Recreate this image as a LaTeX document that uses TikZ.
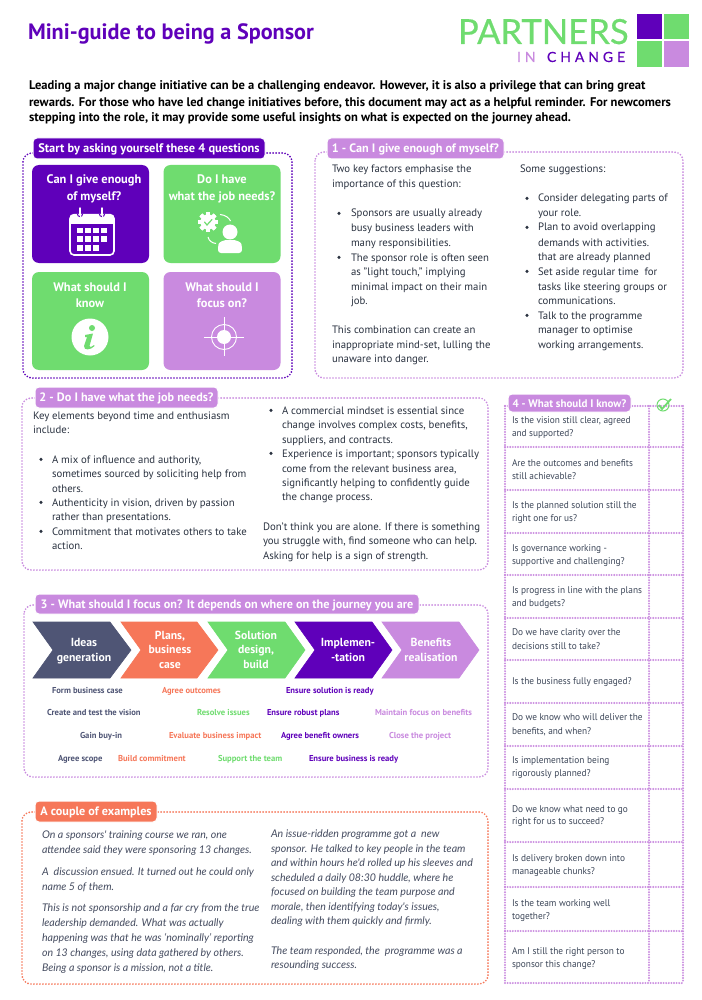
\documentclass[tikz,border=0pt]{standalone}
\usepackage{fontspec}
\setmainfont{PT Sans}
\newfontfamily\tblfont[FakeStretch=0.96]{PT Sans}
\newfontfamily\itfont{Lato}
\newfontfamily\logofont[FakeBold=0.5]{Lato}
\newfontfamily\logospaced[LetterSpace=28,FakeBold=0.5]{Lato}
\definecolor{cpurple}{HTML}{5F00BA}
\definecolor{cgreen}{HTML}{6FDC6F}
\definecolor{clilac}{HTML}{C98ADF}
\definecolor{ccoral}{HTML}{F67759}
\definecolor{cnavy}{HTML}{4F5575}
\definecolor{cink}{HTML}{2A3240}
\definecolor{ctable}{HTML}{3C4658}
\definecolor{citalic}{HTML}{454C60}
\newcounter{tlc}
\newcommand\tline[4][]{\stepcounter{tlc}\node[tl,#1] (t\arabic{tlc}) at (#2,#3) {#4};}
\newcommand\bul[2]{\fill[cink] (#1,#2-3.6) circle[radius=1.7pt];}
\tikzset{
  tl/.style={anchor=base west,inner sep=0pt,outer sep=0pt,font=\fontsize{10.75}{14}\selectfont,text=cink},
  ctr/.style={anchor=base},
  intro/.style={font=\fontsize{12.55}{15}\bfseries\selectfont,text=black},
  tbl/.style={font=\fontsize{9.7}{13}\tblfont\selectfont,text=ctable},
  itl/.style={font=\fontsize{10.6}{13}\itshape\itfont\selectfont,text=citalic},
  small/.style={font=\fontsize{8.6}{10}\bfseries\selectfont},
  celltxt/.style={anchor=base,font=\fontsize{12.4}{15}\bfseries\selectfont,text=white},
  chevtxt/.style={anchor=base,font=\fontsize{11.7}{15}\bfseries\selectfont,text=white},
  panel/.style={line width=1.9pt,line cap=round,dash pattern=on 0pt off 3pt,rounded corners=9pt},
  tableln/.style={clilac,line width=2.1pt,line cap=round,dash pattern=on 0pt off 2.6pt},
  tab/.style={rounded corners=4pt,draw=white,line width=1pt,text=white,inner sep=0pt,text height=10pt,text depth=2pt,font=\fontsize{12.2}{15}\bfseries\selectfont},
  cell/.style={rounded corners=7pt,minimum width=117pt,minimum height=98pt,inner sep=0pt},
  chev/.style={draw=white,line width=0.6pt},
}
\begin{document}
\begin{tikzpicture}[x=1pt,y=-1pt]
\useasboundingbox (0,0) rectangle (701,1000);
\fill[white] (0,0) rectangle (701,1000);

% title and logo
\tline[font=\fontsize{22.2}{26}\bfseries\selectfont,text=cpurple]{28}{40}{Mini-guide to being a Sponsor}
\tline[font=\fontsize{34.6}{40}\logofont\selectfont,text=cgreen]{458}{44}{PARTNERS}
\tline[font=\fontsize{14}{16}\logospaced\selectfont,text=clilac]{517}{62}{IN}
\tline[font=\fontsize{14}{16}\logospaced\selectfont,text=cpurple]{547}{62}{CHANGE}
\fill[cpurple] (637,14) rectangle (662,39);
\fill[cgreen] (664,14) rectangle (689,39);
\fill[cgreen] (637,41) rectangle (662,67);
\fill[clilac] (664,41) rectangle (689,67);

% intro
\tline[intro]{29}{90}{Leading a major change initiative can be a challenging endeavor. However, it is also a privilege that can bring great}
\tline[intro]{29}{106.5}{rewards. For those who have led change initiatives before, this document may act as a helpful reminder. For newcomers}
\tline[intro]{29}{122}{stepping into the role, it may provide some useful insights on what is expected on the journey ahead.}

% panels
\draw[panel,cpurple] (23,153) rectangle (292,378);
\draw[panel,clilac] (315,152) rectangle (683,378);
\draw[panel,clilac] (22,398) rectangle (488,570);
\draw[panel,clilac] (24,605) rectangle (488,777);
\draw[panel,ccoral] (22,812) rectangle (488,984);

% table
\draw[tableln] (505,406) -- (505,983);
\draw[tableln] (649,406) -- (649,983);
\draw[tableln] (683,406) -- (683,983);
\foreach \yy in {406,447,490,533,575,618,660,703,746,789,842,887,931,983}
  \draw[tableln] (505,\yy) -- (683,\yy);

% tabs
\node[tab,fill=cpurple,minimum width=232pt,minimum height=21pt] (tabstart) at (149,148.5) {\fontsize{12.4}{15}\selectfont Start by asking yourself these 4 questions};
\node[tab,fill=clilac,minimum width=177pt,minimum height=21pt] (tabone) at (415.5,148.5) {1 - Can I give enough of myself?};
\node[tab,fill=clilac,minimum width=183pt,minimum height=21pt] (tabtwo) at (126.5,397.5) {2 - Do I have what the job needs?};
\node[tab,fill=clilac,minimum width=384pt,minimum height=20pt] (tabthree) at (227,604) {3 - What should I focus on? It depends on where on the journey you are};
\node[tab,fill=clilac,minimum width=123pt,minimum height=18pt] (tabfour) at (569.5,403) {\fontsize{11}{14}\selectfont 4 - What should I know?};
\node[tab,fill=ccoral,minimum width=122pt,minimum height=21pt] (tabex) at (96,811.5) {A couple of examples};

% cells
\node[cell,fill=cpurple] (c1) at (90.5,214) {};
\node[cell,fill=cgreen] (c2) at (222,214) {};
\node[cell,fill=cgreen] (c3) at (90.5,321) {};
\node[cell,fill=clilac] (c4) at (222,321) {};
\tline[celltxt]{94}{184}{Can I give enough}
\tline[celltxt]{94}{201}{of myself?}
\tline[celltxt]{222}{184}{Do I have}
\tline[celltxt]{222}{201}{what the job needs?}
\tline[celltxt]{90}{291}{What should I}
\tline[celltxt]{90}{307}{know}
\tline[celltxt]{222}{291}{What should I}
\tline[celltxt]{222}{307}{focus on?}

% calendar icon
\draw[white,line width=1.6pt,rounded corners=4pt] (70,215) rectangle (114,255);
\fill[white,rounded corners=4pt] (69.5,214) rectangle (114.5,224) ;
\fill[white] (69.5,219) rectangle (114.5,224);
\foreach \xx in {77,85,93,101}{
  \fill[white] (\xx,228) rectangle (\xx+5.6,233.5);
  \fill[white] (\xx,236.5) rectangle (\xx+5.6,242);}
\foreach \xx in {77,85,93}
  \fill[white] (\xx,245) rectangle (\xx+5.6,250.5);
\foreach \xx in {80,102}{
  \draw[white,line width=1.4pt,line cap=round] (\xx,208) -- (\xx,214);
  \draw[cpurple,line width=1pt] (\xx-2.6,214) arc[start angle=180,end angle=360,radius=2.6pt];
  \draw[white,line width=1pt] (\xx,208) -- (\xx,217);}

% job icon
\fill[white] (208,222) circle[radius=7.6pt];
\foreach \a in {0,45,...,315}
  \fill[white,rotate around={\a:(208,222)}] (206,212) rectangle (210,232);
\draw[cgreen,line width=1.2pt,line cap=round] (204.5,222) -- (207,225) -- (212,219.5);
\draw[white,line width=1pt] (220,214.5) .. controls (226,215) and (229,218) .. (230.5,221);
\draw[white,line width=1pt] (208,237) .. controls (209,241) and (212,243) .. (216,243.5);
\fill[white] (230,232) circle[radius=7.5pt];
\fill[white,rounded corners=3pt] (218,253) -- (218,247) .. controls (219,242) and (224,240) .. (230,240) .. controls (236,240) and (241,242) .. (242,247) -- (242,253) -- cycle;

% info icon
\fill[white] (90,337) circle[radius=18.5pt];
\fill[cgreen] (92,328) circle[radius=3pt];
\fill[cgreen] (85,335) -- (93,333.5) -- (89.5,346) .. controls (89.3,347.5) and (91,347.5) .. (94,345) -- (94.5,346) .. controls (91,350) and (83.5,351) .. (84,346) -- (87,337) -- (85,337) -- cycle;

% target icon
\draw[white,line width=0.9pt] (224,337) circle[radius=12.5pt];
\fill[white] (224,337) circle[radius=7pt];
\draw[white,line width=0.9pt] (204,337) -- (244,337);
\draw[white,line width=0.9pt] (224,317) -- (224,356);

% panel 1 text
\tline{332}{173}{Two key factors emphasise the}
\tline{332}{188}{importance of this question:}
\bul{339}{217}\tline{351}{217}{Sponsors are usually already}
\tline{351}{232}{busy business leaders with}
\tline{351}{246}{many responsibilities.}
\bul{339}{261}\tline{351}{261}{The sponsor role is often seen}
\tline{351}{275}{as "light touch," implying}
\tline{351}{290}{minimal impact on their main}
\tline{351}{304}{job.}
\tline{332}{333}{This combination can create an}
\tline{332}{348}{inappropriate mind-set, lulling the}
\tline{332}{362}{unaware into danger.}
\tline{520}{173}{Some suggestions:}
\bul{527}{202}\tline{538}{202}{Consider delegating parts of}
\tline{538}{217}{your role.}
\bul{527}{231}\tline{538}{231}{Plan to avoid overlapping}
\tline{538}{246}{demands with activities.}
\tline{538}{260}{that are already planned}
\bul{527}{275}\tline{538}{275}{Set aside regular time\ \ for}
\tline{538}{290}{tasks like steering groups or}
\tline{538}{304}{communications.}
\bul{527}{319}\tline{538}{319}{Talk to the programme}
\tline{538}{333}{manager to optimise}
\tline{538}{348}{working arrangements.}

% panel 2 text
\tline{33}{419}{Key elements beyond time and enthusiasm}
\tline{33}{433}{include:}
\bul{41}{463}\tline{52}{463}{A mix of influence and authority,}
\tline{52}{477}{sometimes sourced by soliciting help from}
\tline{52}{492}{others.}
\bul{41}{506}\tline{52}{506}{Authenticity in vision, driven by passion}
\tline{52}{520}{rather than presentations.}
\bul{41}{535}\tline{52}{535}{Commitment that motivates others to take}
\tline{52}{549}{action.}
\bul{271}{414}\tline{282}{414}{A commercial mindset is essential since}
\tline{282}{428}{change involves complex costs, benefits,}
\tline{282}{443}{suppliers, and contracts.}
\bul{271}{457}\tline{282}{457}{Experience is important; sponsors typically}
\tline{282}{472}{come from the relevant business area,}
\tline{282}{486}{significantly helping to confidently guide}
\tline{282}{500}{the change process.}
\tline{263}{530}{Don't think you are alone. If there is something}
\tline{263}{544}{you struggle with, find someone who can help.}
\tline{263}{559}{Asking for help is a sign of strength.}

% chevrons
\fill[chev,cnavy] (33,622) -- (110,622) -- (131,650) -- (110,678) -- (33,678) -- (53,650) -- cycle;
\fill[chev,ccoral] (121,622) -- (197,622) -- (218,650) -- (197,678) -- (121,678) -- (141,650) -- cycle;
\fill[chev,cgreen] (208,622) -- (285,622) -- (305,650) -- (285,678) -- (208,678) -- (228,650) -- cycle;
\fill[chev,cpurple] (295,622) -- (372,622) -- (392,650) -- (372,678) -- (295,678) -- (315,650) -- cycle;
\fill[chev,clilac] (382,622) -- (459,622) -- (479,650) -- (459,678) -- (382,678) -- (402,650) -- cycle;
\tline[chevtxt]{84}{646}{Ideas}
\tline[chevtxt]{84}{661}{generation}
\tline[chevtxt]{170}{639}{Plans,}
\tline[chevtxt]{170}{653}{business}
\tline[chevtxt]{170}{668}{case}
\tline[chevtxt]{256}{639}{Solution}
\tline[chevtxt]{256}{653}{design,}
\tline[chevtxt]{256}{668}{build}
\tline[chevtxt]{348}{646}{Implemen-}
\tline[chevtxt]{348}{661}{-tation}
\tline[chevtxt]{431}{646}{Benefits}
\tline[chevtxt]{431}{661}{realisation}

% small journey labels
\tline[small,text=cnavy]{52}{693}{Form business case}
\tline[small,text=ccoral]{162}{693}{Agree outcomes}
\tline[small,text=cpurple]{286}{693}{Ensure solution is ready}
\tline[small,text=cnavy]{47}{715}{Create and test the vision}
\tline[small,text=cgreen]{197}{715}{Resolve issues}
\tline[small,text=cpurple]{267}{715}{Ensure robust plans}
\tline[small,text=clilac]{375}{715}{Maintain focus on benefits}
\tline[small,text=cnavy]{80}{738}{Gain buy-in}
\tline[small,text=ccoral]{169}{738}{Evaluate business impact}
\tline[small,text=cpurple]{281}{738}{Agree benefit owners}
\tline[small,text=clilac]{389}{738}{Close the project}
\tline[small,text=cnavy]{58}{761}{Agree scope}
\tline[small,text=ccoral]{118}{761}{Build commitment}
\tline[small,text=cgreen]{218}{761}{Support the team}
\tline[small,text=cpurple]{309}{761}{Ensure business is ready}

% examples
\tline[itl]{42}{838}{On a sponsors' training course we ran, one}
\tline[itl]{42}{853}{attendee said they were sponsoring 13 changes.}
\tline[itl]{42}{875}{A\ \ discussion ensued. It turned out he could only}
\tline[itl]{42}{890}{name 5 of them.}
\tline[itl]{42}{911}{This is not sponsorship and a far cry from the true}
\tline[itl]{42}{926}{leadership demanded. What was actually}
\tline[itl]{42}{941}{happening was that he was ‘nominally’ reporting}
\tline[itl]{42}{956}{on 13 changes, using data gathered by others.}
\tline[itl]{42}{971}{Being a sponsor is a mission, not a title.}
\tline[itl]{271}{837}{An issue-ridden programme got a\ \ new}
\tline[itl]{271}{852}{sponsor. He talked to key people in the team}
\tline[itl]{271}{866}{and within hours he'd rolled up his sleeves and}
\tline[itl]{271}{881}{scheduled a daily 08:30 huddle, where he}
\tline[itl]{271}{895}{focused on building the team purpose and}
\tline[itl]{271}{910}{morale, then identifying today's issues,}
\tline[itl]{271}{924}{dealing with them quickly and firmly.}
\tline[itl]{271}{954}{The team responded, the\ \ programme was a}
\tline[itl]{271}{968}{resounding success.}

% table text
\tline[tbl]{512}{423.5}{Is the vision still clear, agreed}
\tline[tbl]{512}{436.5}{and supported?}
\tline[tbl]{512}{466}{Are the outcomes and benefits}
\tline[tbl]{512}{479}{still achievable?}
\tline[tbl]{512}{508}{Is the planned solution still the}
\tline[tbl]{512}{521}{right one for us?}
\tline[tbl]{512}{551}{Is governance working -}
\tline[tbl]{512}{564}{supportive and challenging?}
\tline[tbl]{512}{593}{Is progress in line with the plans}
\tline[tbl]{512}{606}{and budgets?}
\tline[tbl]{512}{635}{Do we have clarity over the}
\tline[tbl]{512}{649}{decisions still to take?}
\tline[tbl]{512}{684}{Is the business fully engaged?}
\tline[tbl]{512}{720}{Do we know who will deliver the}
\tline[tbl]{512}{734}{benefits, and when?}
\tline[tbl]{512}{763}{Is implementation being}
\tline[tbl]{512}{776}{rigorously planned?}
\tline[tbl]{512}{812}{Do we know what need to go}
\tline[tbl]{512}{824}{right for us to succeed?}
\tline[tbl]{512}{861}{Is delivery broken down into}
\tline[tbl]{512}{874}{manageable chunks?}
\tline[tbl]{512}{906}{Is the team working well}
\tline[tbl]{512}{919}{together?}
\tline[tbl]{512}{954}{Am I still the right person to}
\tline[tbl]{512}{967}{sponsor this change?}

% check icon
\draw[cgreen,line width=1pt] (663,405) circle[radius=6pt];
\draw[cgreen,line width=1.8pt] (659,405) -- (662,409) -- (671,399);
\end{tikzpicture}
\end{document}
